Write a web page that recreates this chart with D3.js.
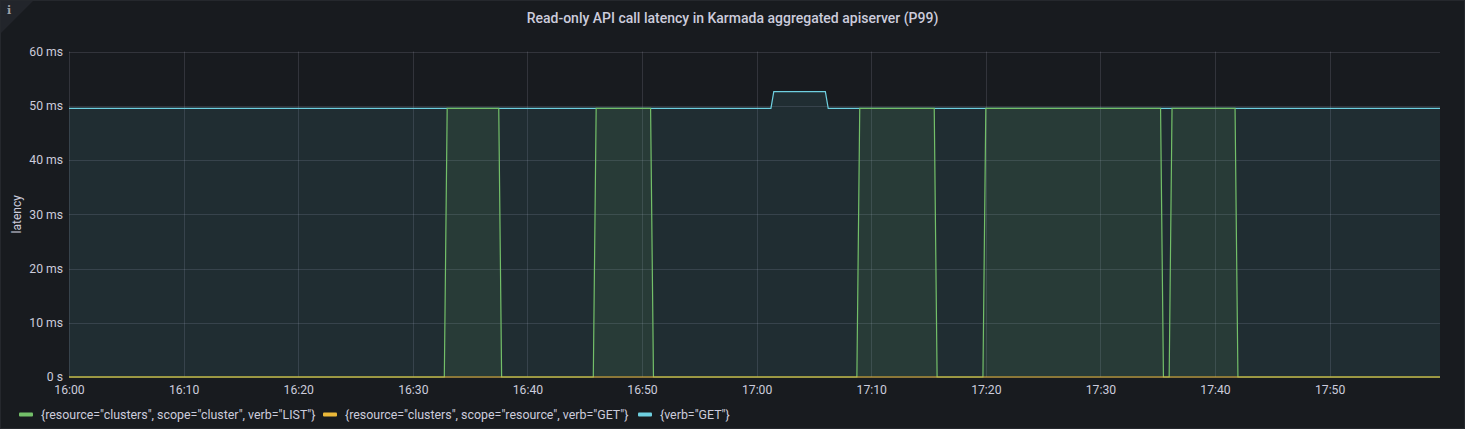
<!DOCTYPE html>
<html><head><meta charset="utf-8">
<script src="https://cdn.jsdelivr.net/npm/d3@7"></script>
<style>
html,body{margin:0;padding:0;background:#181b1f;}
svg{display:block;font-family:Roboto,"Noto Sans",sans-serif;}
</style></head>
<body>
<svg id="c" width="1465" height="429"></svg>
<script>
const title = 'Read-only API call latency in Karmada aggregated apiserver (P99)';
const yLabel = 'latency';
const seriesNames = ['{resource="clusters", scope="cluster", verb="LIST"}', '{resource="clusters", scope="resource", verb="GET"}', '{verb="GET"}'];
const seriesColors = ['#73BF69', '#EAB839', '#6ED0E0'];
const listTimes = ["16:00:00","16:32:45","16:33:00","16:37:30","16:37:45","16:45:45","16:46:00","16:50:45","16:51:00","17:08:45","17:09:00","17:15:30","17:15:45","17:19:45","17:20:00","17:35:15","17:35:30","17:36:00","17:36:15","17:41:45","17:42:00","17:59:38"];
const listValues = [0,0,49.5,49.5,0,0,49.5,49.5,0,0,49.5,49.5,0,0,49.5,49.5,0,0,49.5,49.5,0,0];
const resGetTimes = ["16:00:00","17:59:38"];
const resGetValues = [0,0];
const verbGetTimes = ["16:00:00","17:01:15","17:01:30","17:06:00","17:06:15","17:59:38"];
const verbGetValues = [49.5,49.5,52.6,52.6,49.5,49.5];
const xTickLabels = ["16:00","16:10","16:20","16:30","16:40","16:50","17:00","17:10","17:20","17:30","17:40","17:50"];
const yTickValues = [0,10,20,30,40,50,60];
const yTickLabels = ["0 s","10 ms","20 ms","30 ms","40 ms","50 ms","60 ms"];

const parse = d3.timeParse("%H:%M:%S");
const svg = d3.select("#c");
const W = 1465, H = 429;
const m = {l:69, r:25, t:51.5, b:52};
const x = d3.scaleTime().domain([parse("16:00:00"), parse("17:59:38")]).range([m.l, W - m.r]);
const y = d3.scaleLinear().domain([0,60]).range([H - m.b, m.t]);
const textCol = "#ccccdc";

// panel
svg.append("rect").attr("x",0.5).attr("y",0.5).attr("width",W-1).attr("height",H-1)
  .attr("fill","#181b1f").attr("stroke","#25282d");
svg.append("path").attr("d","M1,1 L33,1 L1,33 Z").attr("fill","#22252b");
svg.append("text").attr("x",7).attr("y",14).attr("fill","#9fa0a8").attr("font-size",11)
  .attr("font-weight",700).attr("font-family","DejaVu Serif, serif").text("i");

svg.append("text").attr("x",W/2).attr("y",23).attr("text-anchor","middle")
  .attr("fill",textCol).attr("font-size",14).attr("font-weight",500).text(title);

// grid
const xTicks = xTickLabels.map(s => parse(s + ":00"));
const g = svg.append("g");
g.selectAll(".gx").data(xTicks).enter().append("line")
  .attr("x1",d=>Math.round(x(d))+0.5).attr("x2",d=>Math.round(x(d))+0.5)
  .attr("y1",y(60)).attr("y2",y(0)).attr("stroke","rgba(204,204,220,0.15)");
g.selectAll(".gy").data(yTickValues).enter().append("line")
  .attr("x1",m.l).attr("x2",W-m.r)
  .attr("y1",d=>Math.round(y(d))+0.5).attr("y2",d=>Math.round(y(d))+0.5).attr("stroke","rgba(204,204,220,0.15)");

// series
const series = [
  {t:listTimes, v:listValues},
  {t:resGetTimes, v:resGetValues},
  {t:verbGetTimes, v:verbGetValues}
].map((s,i) => ({color:seriesColors[i], pts:s.t.map((tt,j)=>({t:parse(tt), v:s.v[j]}))}));

const area = d3.area().x(d=>x(d.t)).y0(y(0)).y1(d=>y(d.v));
const line = d3.line().x(d=>x(d.t)).y(d=>y(d.v));
const order = [2,0,1];
order.forEach(i => {
  svg.append("path").attr("d",area(series[i].pts)).attr("fill",series[i].color).attr("fill-opacity",0.1);
});
order.forEach(i => {
  svg.append("path").attr("d",line(series[i].pts)).attr("fill","none").attr("stroke",series[i].color)
    .attr("stroke-width",1.2);
});

// axes
const xAxis = svg.append("g").attr("transform",`translate(0,${H-m.b})`)
  .call(d3.axisBottom(x).tickValues(xTicks).tickFormat((d,i)=>xTickLabels[i]).tickSize(0).tickPadding(8));
xAxis.select(".domain").remove();
xAxis.selectAll("text").attr("fill",textCol).attr("font-size",12.2).attr("font-family","Roboto, sans-serif");

const yAxis = svg.append("g").attr("transform",`translate(${m.l},0)`)
  .call(d3.axisLeft(y).tickValues(yTickValues).tickFormat((d,i)=>yTickLabels[i]).tickSize(0).tickPadding(6));
yAxis.select(".domain").remove();
yAxis.selectAll("text").attr("fill",textCol).attr("font-size",12.2).attr("font-family","Roboto, sans-serif");

svg.append("text").attr("transform",`translate(21,${(y(0)+y(60))/2}) rotate(-90)`)
  .attr("text-anchor","middle").attr("fill",textCol).attr("font-size",12).text(yLabel);

// legend
const legendX = [19, 323, 638];
seriesNames.forEach((n,i) => {
  svg.append("rect").attr("x",legendX[i]).attr("y",412.5).attr("width",14).attr("height",4).attr("rx",1)
    .attr("fill",seriesColors[i]);
  svg.append("text").attr("x",legendX[i]+22).attr("y",418.5).attr("fill",textCol).attr("font-size",12.4).text(n);
});
</script>
</body></html>
